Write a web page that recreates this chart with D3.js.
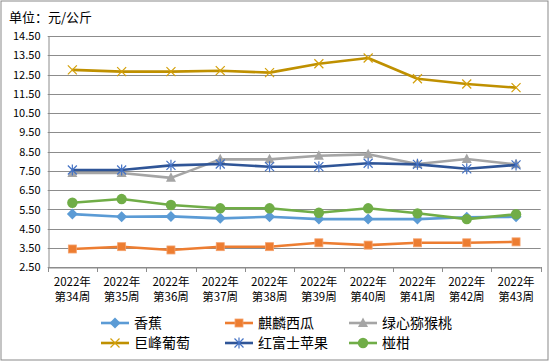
<!DOCTYPE html>
<html>
<head>
<meta charset="utf-8">
<script src="https://cdn.jsdelivr.net/npm/d3@7"></script>
<style>
  body { margin: 0; background: #fff; }
  svg { display: block; }
  text { font-family: "Noto Sans CJK SC", "Noto Sans", sans-serif; fill: #000; }
</style>
</head>
<body>
<svg id="chart" width="550" height="362"></svg>
<script>
const weeks = ['第34周', '第35周', '第36周', '第37周', '第38周', '第39周', '第40周', '第41周', '第42周', '第43周'];
const year = '2022年';
const yTicks = [14.5, 13.5, 12.5, 11.5, 10.5, 9.5, 8.5, 7.5, 6.5, 5.5, 4.5, 3.5, 2.5];

const banana = [5.26, 5.12, 5.14, 5.04, 5.12, 5.0, 5.0, 5.0, 5.1, 5.12];
const watermelon = [3.45, 3.57, 3.4, 3.57, 3.57, 3.77, 3.65, 3.77, 3.77, 3.82];
const kiwi = [7.39, 7.39, 7.14, 8.1, 8.1, 8.29, 8.36, 7.86, 8.12, 7.84];
const grape = [12.74, 12.65, 12.65, 12.7, 12.6, 13.06, 13.36, 12.28, 12.01, 11.82];
const apple = [7.55, 7.55, 7.79, 7.86, 7.72, 7.72, 7.9, 7.84, 7.61, 7.81];
const citrus = [5.85, 6.04, 5.73, 5.56, 5.56, 5.33, 5.56, 5.3, 5.0, 5.25];

const series = [
  { name: '香蕉', values: banana, color: '#5B9BD5', mark: '#5B9BD5', shape: 'diamond' },
  { name: '麒麟西瓜', values: watermelon, color: '#ED7D31', mark: '#ED7D31', shape: 'square' },
  { name: '绿心猕猴桃', values: kiwi, color: '#A5A5A5', mark: '#A5A5A5', shape: 'triangle' },
  { name: '巨峰葡萄', values: grape, color: '#BF9000', mark: '#D4A00A', shape: 'x' },
  { name: '红富士苹果', values: apple, color: '#2F5597', mark: '#4472C4', shape: 'star' },
  { name: '椪柑', values: citrus, color: '#70AD47', mark: '#70AD47', shape: 'circle' }
];

const svg = d3.select('#chart');
const plotLeft = 47.7, plotRight = 540.7, plotTop = 36, plotBottom = 267.3;

// outer frame
svg.append('rect')
  .attr('x', 1).attr('y', 1).attr('width', 547).attr('height', 359)
  .attr('fill', '#fff').attr('stroke', '#898989').attr('stroke-width', 1);

svg.append('text').attr('x', 9).attr('y', 22)
  .attr('font-size', 13).text('单位：元/公斤');

const x = d3.scaleBand().domain(weeks).range([plotLeft, plotRight]);
const y = d3.scaleLinear().domain([2.5, 14.5]).range([plotBottom, plotTop]);
const cx = (d) => x(d) + x.bandwidth() / 2;

// grid
svg.append('g')
  .selectAll('line')
  .data(yTicks)
  .enter()
  .append('line')
  .attr('x1', plotLeft).attr('x2', plotRight)
  .attr('y1', (d) => Math.round(y(d)) + 0.5)
  .attr('y2', (d) => Math.round(y(d)) + 0.5)
  .attr('stroke', '#8C8C8C').attr('stroke-width', 1);

// y axis
const yAxis = svg.append('g')
  .attr('transform', `translate(${Math.round(plotLeft) + 0.5},0)`)
  .call(d3.axisLeft(y).tickValues(yTicks).tickFormat(d3.format('.2f')).tickSize(0).tickPadding(8));
yAxis.select('.domain').attr('stroke', '#8C8C8C');
yAxis.selectAll('text').attr('font-size', 11).attr('font-family', '"Noto Sans CJK SC", sans-serif').attr('fill', '#000');

// x axis
const xAxis = svg.append('g')
  .attr('transform', `translate(0,${Math.round(plotBottom) + 0.5})`)
  .call(d3.axisBottom(x).tickSize(0).tickFormat(''));
xAxis.select('.domain').attr('stroke', '#8C8C8C');
xAxis.selectAll('.tick').remove();

svg.append('g')
  .selectAll('line')
  .data(d3.range(weeks.length + 1))
  .enter()
  .append('line')
  .attr('x1', (i) => Math.round(plotLeft + i * x.bandwidth()) + 0.5)
  .attr('x2', (i) => Math.round(plotLeft + i * x.bandwidth()) + 0.5)
  .attr('y1', Math.round(plotBottom)).attr('y2', Math.round(plotBottom) + 5)
  .attr('stroke', '#8C8C8C');

const xl = svg.append('g').selectAll('text').data(weeks).enter();
xl.append('text').attr('x', cx).attr('y', 286).attr('text-anchor', 'middle')
  .attr('font-size', 11.5).text(year);
xl.append('text').attr('x', cx).attr('y', 301).attr('text-anchor', 'middle')
  .attr('font-size', 11.5).text((d) => d);

function drawMarker(g, s, px, py) {
  if (s.shape === 'diamond') {
    g.append('path').attr('d', `M${px},${py - 5.5}L${px + 5.5},${py}L${px},${py + 5.5}L${px - 5.5},${py}Z`)
      .attr('fill', s.mark);
  } else if (s.shape === 'square') {
    g.append('rect').attr('x', px - 4).attr('y', py - 4).attr('width', 8).attr('height', 8)
      .attr('fill', s.mark).attr('stroke', '#F4A06A').attr('stroke-width', 0.8);
  } else if (s.shape === 'triangle') {
    g.append('path').attr('d', `M${px},${py - 5.5}L${px + 5},${py + 4}L${px - 5},${py + 4}Z`)
      .attr('fill', s.mark);
  } else if (s.shape === 'circle') {
    g.append('circle').attr('cx', px).attr('cy', py).attr('r', 5.2).attr('fill', s.mark);
  } else if (s.shape === 'x') {
    g.append('path').attr('d', `M${px - 4.5},${py - 4.5}L${px + 4.5},${py + 4.5}M${px + 4.5},${py - 4.5}L${px - 4.5},${py + 4.5}`)
      .attr('stroke', s.mark).attr('stroke-width', 1.2).attr('fill', 'none');
  } else if (s.shape === 'star') {
    g.append('path').attr('d', `M${px - 4.5},${py - 4.5}L${px + 4.5},${py + 4.5}M${px + 4.5},${py - 4.5}L${px - 4.5},${py + 4.5}M${px},${py - 5.5}L${px},${py + 5.5}`)
      .attr('stroke', s.mark).attr('stroke-width', 1.2).attr('fill', 'none');
  }
}

const line = d3.line().x((d, i) => cx(weeks[i])).y((d) => y(d));

series.forEach((s) => {
  const g = svg.append('g');
  g.append('path').datum(s.values).attr('d', line)
    .attr('fill', 'none').attr('stroke', s.color).attr('stroke-width', 2.6)
    .attr('stroke-linejoin', 'round');
  s.values.forEach((v, i) => drawMarker(g, s, cx(weeks[i]), y(v)));
});

// legend
const legX = [101, 225, 349];
const legY = [323, 343];
series.forEach((s, i) => {
  const lx = legX[i % 3], ly = legY[Math.floor(i / 3)];
  const g = svg.append('g');
  g.append('line').attr('x1', lx).attr('x2', lx + 28).attr('y1', ly).attr('y2', ly)
    .attr('stroke', s.color).attr('stroke-width', 2.6);
  drawMarker(g, s, lx + 14, ly);
  g.append('text').attr('x', lx + 33).attr('y', ly + 5).attr('font-size', 14).text(s.name);
});
</script>
</body>
</html>
